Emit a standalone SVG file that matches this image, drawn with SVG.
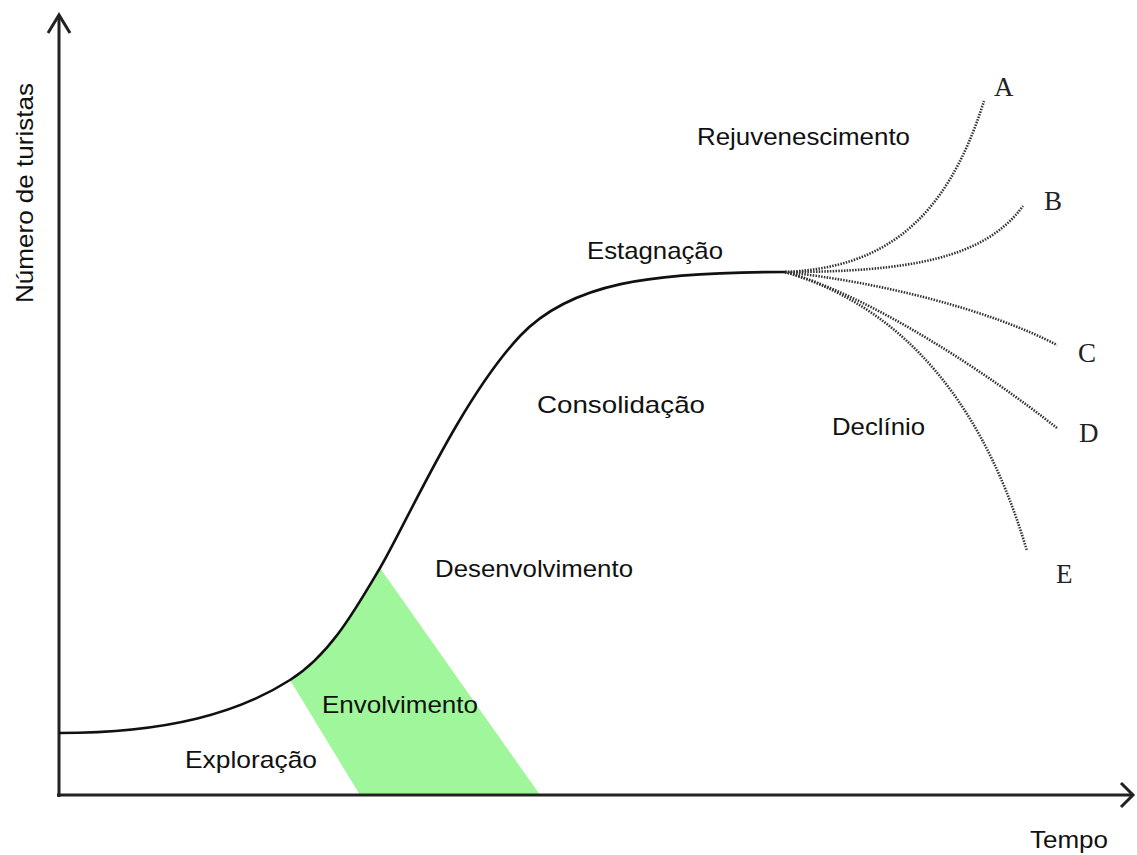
<svg xmlns="http://www.w3.org/2000/svg" width="1137" height="855" viewBox="0 0 1137 855">
<style>
.lbl{font-family:"Liberation Sans",Arial,sans-serif;font-size:24px;fill:#111;}
.let{font-family:"Liberation Serif","Times New Roman",serif;font-size:27px;fill:#222;}
.axis{stroke:#222;stroke-width:3;fill:none;}
.curve{stroke:#111;stroke-width:2.6;fill:none;}
.dot{stroke:#333;stroke-width:2.6;fill:none;stroke-dasharray:1.5 1.3;}
</style>
<rect width="1137" height="855" fill="#fff"/>
<g id="envolvimento-area">
<path d="M290,680 C330,655 355,610 380,568 L540,795 L360,795 Z" fill="#9ff69b"/>
</g>
<g id="axes">
<line class="axis" x1="59" y1="797" x2="59" y2="15"/>
<polyline class="axis" points="48,33 59,15 70,33"/>
<line class="axis" x1="57" y1="795" x2="1133" y2="795"/>
<polyline class="axis" points="1121,783 1133,795 1121,807"/>
</g>
<g id="connectors">
<path id="main-curve" class="curve" d="M59,733 C170,733 240,712 290,680 C330,655 355,610 380,568 C405,526 460,400 520,336 C570,283 650,272 785,272"/>
<path id="branch-A" class="dot" d="M785,272 C880,268 945,225 984,101"/>
<path id="branch-B" class="dot" d="M785,272 C910,272 985,258 1023,206"/>
<path id="branch-C" class="dot" d="M785,272 C880,282 990,310 1057,345"/>
<path id="branch-D" class="dot" d="M785,272 C870,295 990,375 1057,428"/>
<path id="branch-E" class="dot" d="M785,272 C880,300 975,375 1027,551"/>
</g>
<g id="label-y"><text class="lbl" transform="translate(33,303) rotate(-90)" x="0" y="0" textLength="220" lengthAdjust="spacingAndGlyphs">Número de turistas</text></g>
<g id="label-x"><text class="lbl" x="1030" y="848" textLength="78" lengthAdjust="spacingAndGlyphs">Tempo</text></g>
<g id="stage-exploracao"><text class="lbl" x="185" y="768" textLength="132" lengthAdjust="spacingAndGlyphs">Exploração</text></g>
<g id="stage-envolvimento"><text class="lbl" x="322" y="713" textLength="156" lengthAdjust="spacingAndGlyphs">Envolvimento</text></g>
<g id="stage-desenvolvimento"><text class="lbl" x="435" y="577" textLength="198" lengthAdjust="spacingAndGlyphs">Desenvolvimento</text></g>
<g id="stage-consolidacao"><text class="lbl" x="537" y="413" textLength="168" lengthAdjust="spacingAndGlyphs">Consolidação</text></g>
<g id="stage-estagnacao"><text class="lbl" x="587" y="259" textLength="136" lengthAdjust="spacingAndGlyphs">Estagnação</text></g>
<g id="stage-rejuvenescimento"><text class="lbl" x="697" y="145" textLength="213" lengthAdjust="spacingAndGlyphs">Rejuvenescimento</text></g>
<g id="stage-declinio"><text class="lbl" x="832" y="435" textLength="93" lengthAdjust="spacingAndGlyphs">Declínio</text></g>
<g id="end-A"><text class="let" x="994" y="96">A</text></g>
<g id="end-B"><text class="let" x="1044" y="210">B</text></g>
<g id="end-C"><text class="let" x="1078" y="362">C</text></g>
<g id="end-D"><text class="let" x="1079" y="442">D</text></g>
<g id="end-E"><text class="let" x="1056" y="583">E</text></g>
</svg>
